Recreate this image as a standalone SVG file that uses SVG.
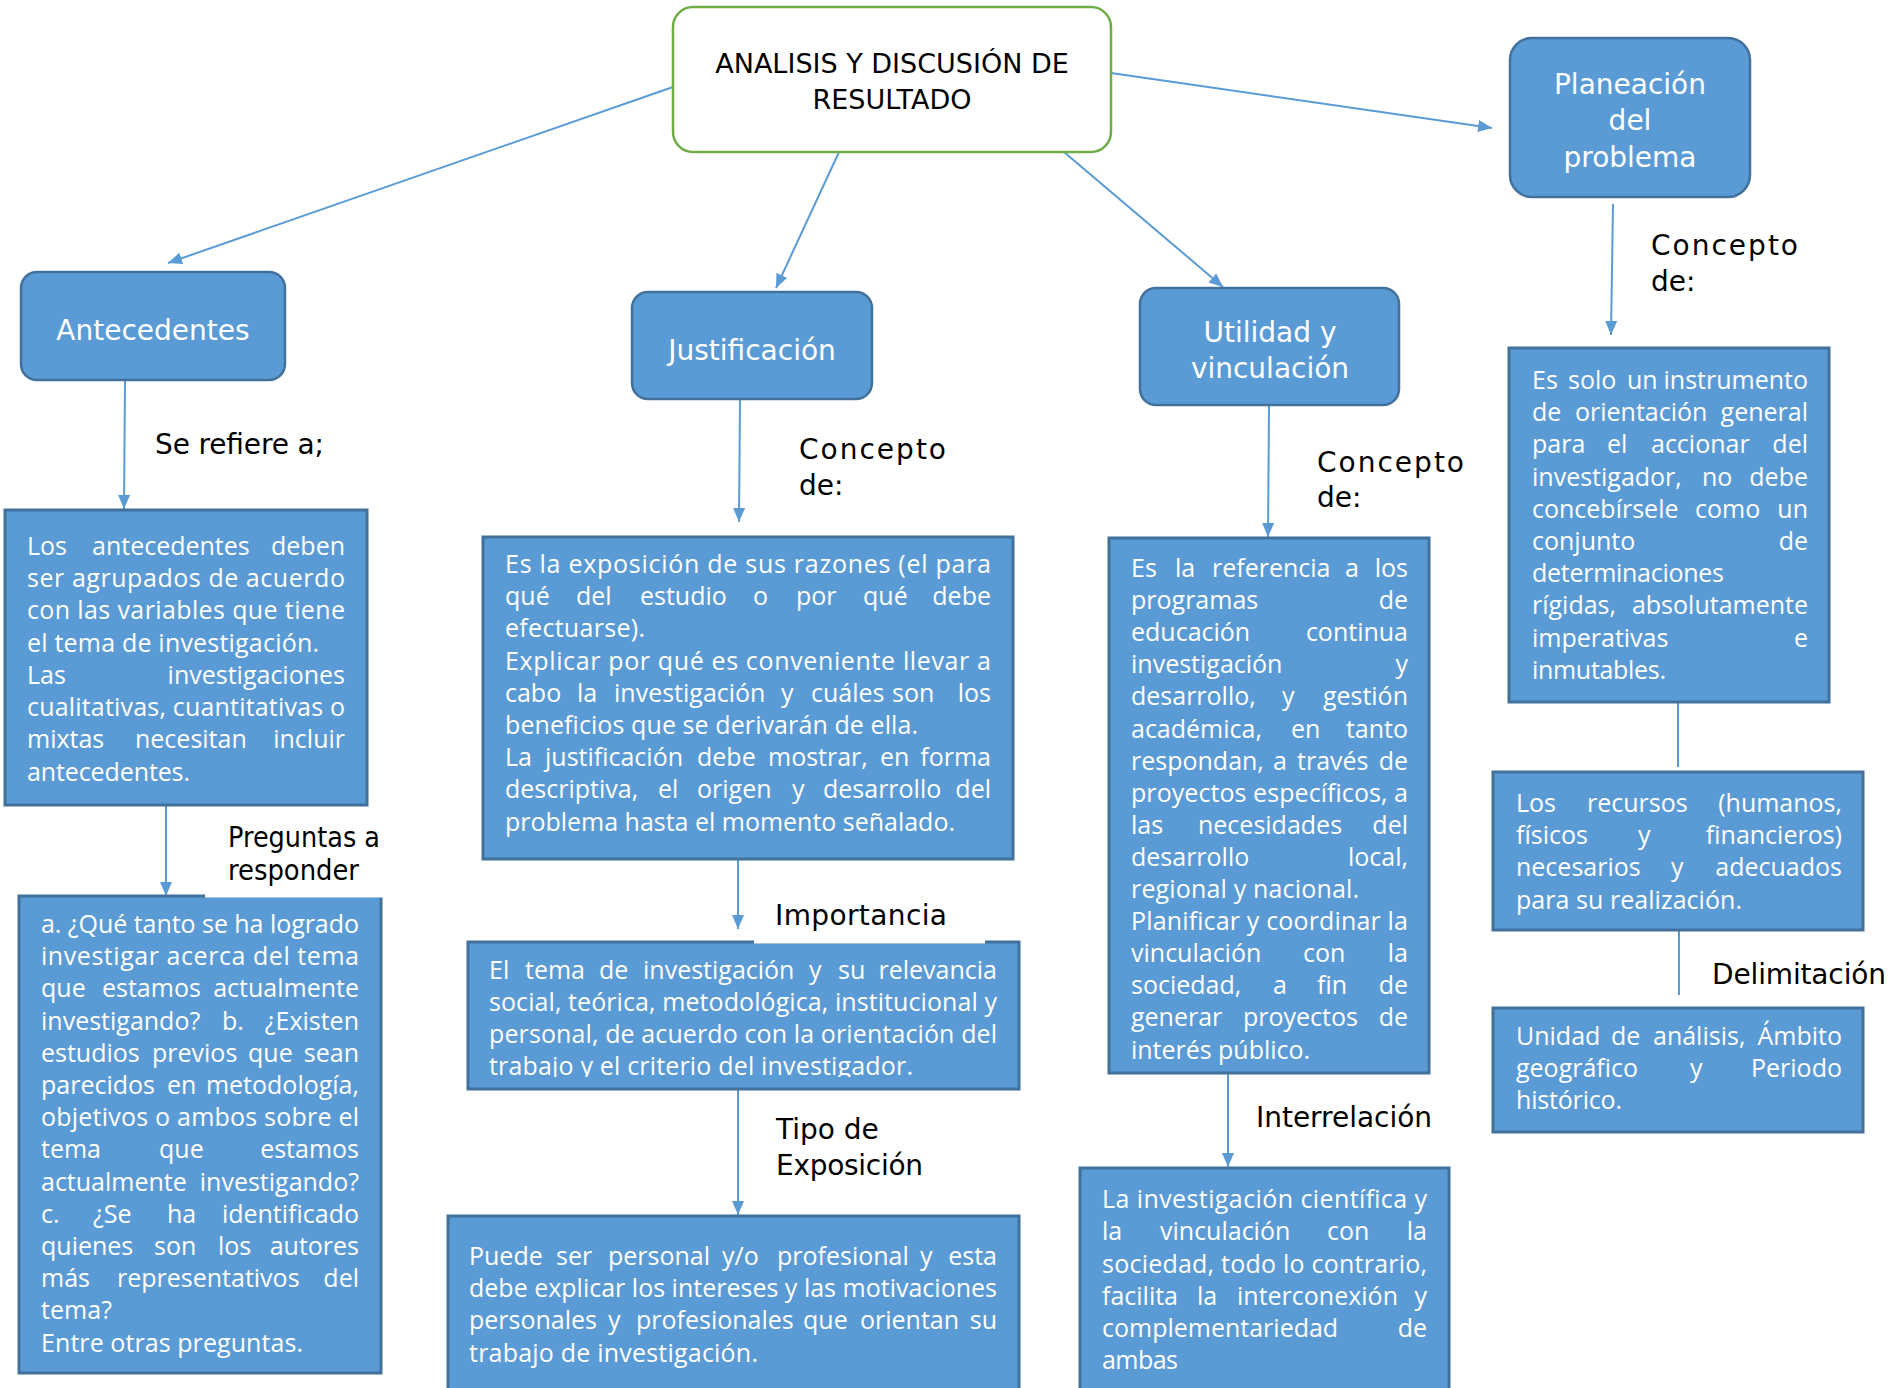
<svg xmlns="http://www.w3.org/2000/svg" width="1902" height="1388" viewBox="0 0 1902 1388">
<style>
.node{fill:#5B9BD5;stroke:#41719C;stroke-width:2.5}
.box{fill:#5B9BD5;stroke:#41719C;stroke-width:3}
.t{font-family:'Open Sans','Noto Sans',sans-serif;font-size:25px;fill:#fff}
.e{text-anchor:end}
.h{font-family:'DejaVu Sans',sans-serif;font-size:28px;fill:#fff;text-anchor:middle}
.lb{font-family:'DejaVu Sans',sans-serif;font-size:28px;fill:#000}
.c{stroke:#5B9BD5;stroke-width:2;fill:none}
</style>
<defs>
<marker id="ah" markerWidth="14" markerHeight="12" refX="14" refY="6" orient="auto" markerUnits="userSpaceOnUse"><path d="M0,0 L14,6 L0,12 z" fill="#5B9BD5"/></marker>
<clipPath id="impclip"><rect x="468" y="942" width="551" height="135"/></clipPath>
</defs>
<rect width="1902" height="1388" fill="#fff"/>

<g id="connectors">
<line class="c" x1="673" y1="87" x2="168" y2="263" marker-end="url(#ah)"/>
<line class="c" x1="839" y1="152" x2="776" y2="288" marker-end="url(#ah)"/>
<line class="c" x1="1064" y1="152" x2="1223" y2="287" marker-end="url(#ah)"/>
<line class="c" x1="1111" y1="73" x2="1492" y2="128" marker-end="url(#ah)"/>
<line class="c" x1="1613" y1="204" x2="1611" y2="335" marker-end="url(#ah)"/>
<line class="c" x1="125" y1="380" x2="124" y2="509" marker-end="url(#ah)"/>
<line class="c" x1="740" y1="399" x2="739" y2="522" marker-end="url(#ah)"/>
<line class="c" x1="1269" y1="405" x2="1268" y2="537" marker-end="url(#ah)"/>
<line class="c" x1="166" y1="805" x2="166" y2="896" marker-end="url(#ah)"/>
<line class="c" x1="738" y1="859" x2="738" y2="929" marker-end="url(#ah)"/>
<line class="c" x1="738" y1="1089" x2="738" y2="1215" marker-end="url(#ah)"/>
<line class="c" x1="1228" y1="1073" x2="1228" y2="1167" marker-end="url(#ah)"/>
<line class="c" x1="1678" y1="702" x2="1678" y2="767"/>
<line class="c" x1="1679" y1="930" x2="1679" y2="995"/>
</g>

<g id="main">
<rect x="673" y="7" width="438" height="145" rx="20" fill="#fff" stroke="#70AD47" stroke-width="2.5"/>
<text x="892" y="73" font-family="'DejaVu Sans',sans-serif" font-size="27" text-anchor="middle" fill="#000">ANALISIS Y DISCUSIÓN DE</text>
<text x="892" y="109" font-family="'DejaVu Sans',sans-serif" font-size="27" text-anchor="middle" fill="#000">RESULTADO</text>
</g>

<g id="planeacion">
<rect class="node" x="1510" y="38" width="240" height="159" rx="22"/>
<text class="h" x="1630" y="94" font-size="29">Planeación</text>
<text class="h" x="1630" y="130" font-size="29">del</text>
<text class="h" x="1630" y="167" font-size="29">problema</text>
</g>

<g id="antecedentes">
<rect class="node" x="21" y="272" width="264" height="108" rx="16"/>
<text class="h" x="153" y="340">Antecedentes</text>
</g>

<g id="justificacion">
<rect class="node" x="632" y="292" width="240" height="107" rx="16"/>
<text class="h" x="752" y="360">Justificación</text>
</g>

<g id="utilidad">
<rect class="node" x="1140" y="288" width="259" height="117" rx="16"/>
<text class="h" x="1270" y="342">Utilidad y</text>
<text class="h" x="1270" y="378">vinculación</text>
</g>

<g id="antecedentes-texto">
<rect class="box" x="5" y="510" width="362" height="295"/>
<text class="t" y="555"><tspan x="27">Los</tspan><tspan x="92">antecedentes</tspan></text><text class="t e" x="345" y="555">deben</text>
<text class="t" x="27" y="587" textLength="318" lengthAdjust="spacing">ser agrupados de acuerdo</text>
<text class="t" x="27" y="619" textLength="318" lengthAdjust="spacing">con las variables que tiene</text>
<text class="t" x="27" y="652" textLength="292" lengthAdjust="spacing">el tema de investigación.</text>
<text class="t" x="27" y="684">Las</text><text class="t e" x="345" y="684">investigaciones</text>
<text class="t" x="27" y="716" textLength="318" lengthAdjust="spacing">cualitativas, cuantitativas o</text>
<text class="t" y="748"><tspan x="27">mixtas</tspan><tspan x="135">necesitan</tspan></text><text class="t e" x="345" y="748">incluir</text>
<text class="t" x="27" y="781" textLength="163" lengthAdjust="spacing">antecedentes.</text>
</g>

<g id="preguntas">
<rect class="box" x="19" y="896" width="362" height="477"/>
<text class="t" x="41" y="933" textLength="318" lengthAdjust="spacing">a. ¿Qué tanto se ha logrado</text>
<text class="t" x="41" y="965.2" textLength="318" lengthAdjust="spacing">investigar acerca del tema</text>
<text class="t" y="997.4"><tspan x="41">que</tspan><tspan x="102">estamos</tspan></text><text class="t e" x="359" y="997.4">actualmente</text>
<text class="t" y="1029.6"><tspan x="41">investigando?</tspan><tspan x="222">b.</tspan></text><text class="t e" x="359" y="1029.6">¿Existen</text>
<text class="t" y="1061.8"><tspan x="41">estudios</tspan><tspan x="152">previos</tspan><tspan x="248">que</tspan></text><text class="t e" x="359" y="1061.8">sean</text>
<text class="t" y="1094"><tspan x="41">parecidos</tspan><tspan x="167">en</tspan></text><text class="t e" x="359" y="1094">metodología,</text>
<text class="t" x="41" y="1126.2" textLength="318" lengthAdjust="spacing">objetivos o ambos sobre el</text>
<text class="t" y="1158.4"><tspan x="41">tema</tspan><tspan x="159">que</tspan></text><text class="t e" x="359" y="1158.4">estamos</text>
<text class="t" x="41" y="1190.6">actualmente</text><text class="t e" x="359" y="1190.6">investigando?</text>
<text class="t" y="1222.8"><tspan x="41">c.</tspan><tspan x="93">¿Se</tspan><tspan x="167">ha</tspan></text><text class="t e" x="359" y="1222.8">identificado</text>
<text class="t" y="1255"><tspan x="41">quienes</tspan><tspan x="154">son</tspan><tspan x="218">los</tspan></text><text class="t e" x="359" y="1255">autores</text>
<text class="t" x="41" y="1287.2">más</text><text class="t" x="117" y="1287.2">representativos</text><text class="t e" x="359" y="1287.2">del</text>
<text class="t" x="41" y="1319.4" textLength="71" lengthAdjust="spacing">tema?</text>
<text class="t" x="41" y="1351.6" textLength="262" lengthAdjust="spacing">Entre otras preguntas.</text>
</g>

<g id="justificacion-texto">
<rect class="box" x="483" y="537" width="530" height="322"/>
<text class="t" x="505" y="573" textLength="486" lengthAdjust="spacing">Es  la exposición de sus razones (el para</text>
<text class="t" y="605.2"><tspan x="505">qué</tspan><tspan x="576">del</tspan><tspan x="640">estudio</tspan><tspan x="753">o</tspan><tspan x="796">por</tspan><tspan x="863">qué</tspan></text><text class="t e" x="991" y="605.2">debe</text>
<text class="t" x="505" y="637.4" textLength="140" lengthAdjust="spacing">efectuarse).</text>
<text class="t" x="505" y="669.6" textLength="486" lengthAdjust="spacing">Explicar por qué es conveniente llevar a</text>
<text class="t" y="701.8"><tspan x="505">cabo</tspan><tspan x="577">la</tspan><tspan x="614">investigación</tspan><tspan x="781">y</tspan><tspan x="811">cuáles</tspan><tspan x="892">son</tspan></text><text class="t e" x="991" y="701.8">los</text>
<text class="t" x="505" y="734" textLength="413" lengthAdjust="spacing">beneficios que se derivarán de ella.</text>
<text class="t" y="766.2"><tspan x="505">La</tspan><tspan x="545">justificación</tspan><tspan x="697">debe</tspan><tspan x="768">mostrar,</tspan><tspan x="880">en</tspan></text><text class="t e" x="991" y="766.2">forma</text>
<text class="t" y="798.4"><tspan x="505">descriptiva,</tspan><tspan x="658">el</tspan><tspan x="697">origen</tspan><tspan x="792">y</tspan><tspan x="823">desarrollo</tspan></text><text class="t e" x="991" y="798.4">del</text>
<text class="t" x="505" y="830.6" textLength="450" lengthAdjust="spacing">problema hasta el momento señalado.</text>
</g>

<g id="importancia">
<rect class="box" x="468" y="942" width="551" height="147"/>
<rect x="754" y="900" width="231" height="43.5" fill="#fff"/>
<g clip-path="url(#impclip)">
<text class="t" y="979"><tspan x="489">El</tspan><tspan x="525">tema</tspan><tspan x="599">de</tspan><tspan x="643">investigación</tspan><tspan x="809">y</tspan><tspan x="838">su</tspan></text><text class="t e" x="997" y="979">relevancia</text>
<text class="t" x="489" y="1011" textLength="508" lengthAdjust="spacing">social, teórica, metodológica, institucional y</text>
<text class="t" x="489" y="1043" textLength="508" lengthAdjust="spacing">personal, de acuerdo con la orientación del</text>
<text class="t" x="489" y="1075" textLength="424" lengthAdjust="spacing">trabajo y el criterio del investigador.</text>
</g>
</g>

<g id="tipo-exposicion">
<rect class="box" x="448" y="1216" width="571" height="190"/>
<text class="t" y="1265"><tspan x="469">Puede</tspan><tspan x="556">ser</tspan><tspan x="608">personal</tspan><tspan x="722">y/o</tspan><tspan x="777">profesional</tspan><tspan x="920">y</tspan></text><text class="t e" x="997" y="1265">esta</text>
<text class="t" x="469" y="1297" textLength="528" lengthAdjust="spacing">debe explicar los intereses y las motivaciones</text>
<text class="t" y="1329"><tspan x="469">personales</tspan><tspan x="608">y</tspan><tspan x="636">profesionales</tspan><tspan x="803">que</tspan><tspan x="860">orientan</tspan></text><text class="t e" x="997" y="1329">su</text>
<text class="t" x="469" y="1362" textLength="289" lengthAdjust="spacing">trabajo de investigación.</text>
</g>

<g id="utilidad-texto">
<rect class="box" x="1109" y="538" width="320" height="535"/>
<text class="t" y="577"><tspan x="1131">Es</tspan><tspan x="1175">la</tspan><tspan x="1212">referencia</tspan><tspan x="1345">a</tspan></text><text class="t e" x="1408" y="577">los</text>
<text class="t" x="1131" y="609">programas</text><text class="t e" x="1408" y="609">de</text>
<text class="t" x="1131" y="641">educación</text><text class="t e" x="1408" y="641">continua</text>
<text class="t" x="1131" y="673">investigación</text><text class="t e" x="1408" y="673">y</text>
<text class="t" y="705"><tspan x="1131">desarrollo,</tspan><tspan x="1282">y</tspan></text><text class="t e" x="1408" y="705">gestión</text>
<text class="t" y="738"><tspan x="1131">académica,</tspan><tspan x="1291">en</tspan></text><text class="t e" x="1408" y="738">tanto</text>
<text class="t" y="770"><tspan x="1131">respondan,</tspan><tspan x="1273">a</tspan><tspan x="1297">través</tspan></text><text class="t e" x="1408" y="770">de</text>
<text class="t" x="1131" y="802" textLength="277" lengthAdjust="spacing">proyectos específicos, a</text>
<text class="t" y="834"><tspan x="1131">las</tspan><tspan x="1198">necesidades</tspan></text><text class="t e" x="1408" y="834">del</text>
<text class="t" x="1131" y="866">desarrollo</text><text class="t e" x="1408" y="866">local,</text>
<text class="t" x="1131" y="898" textLength="228" lengthAdjust="spacing">regional y nacional.</text>
<text class="t" x="1131" y="930" textLength="277" lengthAdjust="spacing">Planificar y coordinar la</text>
<text class="t" y="962"><tspan x="1131">vinculación</tspan><tspan x="1303">con</tspan></text><text class="t e" x="1408" y="962">la</text>
<text class="t" y="994"><tspan x="1131">sociedad,</tspan><tspan x="1273">a</tspan><tspan x="1317">fin</tspan></text><text class="t e" x="1408" y="994">de</text>
<text class="t" y="1026"><tspan x="1131">generar</tspan><tspan x="1243">proyectos</tspan></text><text class="t e" x="1408" y="1026">de</text>
<text class="t" x="1131" y="1059" textLength="179" lengthAdjust="spacing">interés público.</text>
</g>

<g id="interrelacion">
<rect class="box" x="1080" y="1168" width="369" height="240"/>
<text class="t" x="1102" y="1208" textLength="325" lengthAdjust="spacing">La investigación científica y</text>
<text class="t" y="1240"><tspan x="1102">la</tspan><tspan x="1160">vinculación</tspan><tspan x="1327">con</tspan></text><text class="t e" x="1427" y="1240">la</text>
<text class="t" x="1102" y="1273" textLength="325" lengthAdjust="spacing">sociedad, todo lo contrario,</text>
<text class="t" y="1305"><tspan x="1102">facilita</tspan><tspan x="1197">la</tspan><tspan x="1237">interconexión</tspan></text><text class="t e" x="1427" y="1305">y</text>
<text class="t" x="1102" y="1337">complementariedad</text><text class="t e" x="1427" y="1337">de</text>
<text class="t" x="1102" y="1369" textLength="76" lengthAdjust="spacing">ambas</text>
</g>

<g id="planeacion-texto">
<rect class="box" x="1509" y="348" width="320" height="354"/>
<text class="t" y="389"><tspan x="1532">Es</tspan><tspan x="1568">solo</tspan><tspan x="1627">un</tspan></text><text class="t e" x="1808" y="389">instrumento</text>
<text class="t" y="421"><tspan x="1532">de</tspan><tspan x="1575">orientación</tspan></text><text class="t e" x="1808" y="421">general</text>
<text class="t" y="453"><tspan x="1532">para</tspan><tspan x="1607">el</tspan><tspan x="1651">accionar</tspan></text><text class="t e" x="1808" y="453">del</text>
<text class="t" y="486"><tspan x="1532">investigador,</tspan><tspan x="1702">no</tspan></text><text class="t e" x="1808" y="486">debe</text>
<text class="t" y="518"><tspan x="1532">concebírsele</tspan><tspan x="1695">como</tspan></text><text class="t e" x="1808" y="518">un</text>
<text class="t" x="1532" y="550">conjunto</text><text class="t e" x="1808" y="550">de</text>
<text class="t" x="1532" y="582" textLength="192" lengthAdjust="spacing">determinaciones</text>
<text class="t" x="1532" y="614">rígidas,</text><text class="t e" x="1808" y="614">absolutamente</text>
<text class="t" x="1532" y="647">imperativas</text><text class="t e" x="1808" y="647">e</text>
<text class="t" x="1532" y="679" textLength="134" lengthAdjust="spacing">inmutables.</text>
</g>

<g id="recursos">
<rect class="box" x="1493" y="772" width="370" height="158"/>
<text class="t" y="812"><tspan x="1516">Los</tspan><tspan x="1587">recursos</tspan></text><text class="t e" x="1842" y="812">(humanos,</text>
<text class="t" y="844"><tspan x="1516">físicos</tspan><tspan x="1638">y</tspan></text><text class="t e" x="1842" y="844">financieros)</text>
<text class="t" y="876"><tspan x="1516">necesarios</tspan><tspan x="1671">y</tspan></text><text class="t e" x="1842" y="876">adecuados</text>
<text class="t" x="1516" y="909" textLength="226" lengthAdjust="spacing">para su realización.</text>
</g>

<g id="delimitacion">
<rect class="box" x="1493" y="1008" width="370" height="124"/>
<text class="t" y="1045"><tspan x="1516">Unidad</tspan><tspan x="1611">de</tspan><tspan x="1653">análisis,</tspan></text><text class="t e" x="1842" y="1045">Ámbito</text>
<text class="t" y="1077"><tspan x="1516">geográfico</tspan><tspan x="1690">y</tspan></text><text class="t e" x="1842" y="1077">Periodo</text>
<text class="t" x="1516" y="1109" textLength="106" lengthAdjust="spacing">histórico.</text>
</g>

<g id="labels">
<text class="lb" x="155" y="454" textLength="169" lengthAdjust="spacing">Se refiere a;</text>
<rect x="205" y="815" width="180" height="82.5" fill="#fff"/>
<text class="lb" x="228" y="847" font-size="26" textLength="152" lengthAdjust="spacingAndGlyphs">Preguntas a</text>
<text class="lb" x="228" y="880" font-size="26" textLength="131" lengthAdjust="spacingAndGlyphs">responder</text>
<text class="lb" x="799" y="459" textLength="147" lengthAdjust="spacing">Concepto</text>
<text class="lb" x="799" y="495">de:</text>
<text class="lb" x="775" y="925" textLength="172" lengthAdjust="spacing">Importancia</text>
<text class="lb" x="776" y="1139">Tipo de</text>
<text class="lb" x="776" y="1175" textLength="147" lengthAdjust="spacing">Exposición</text>
<text class="lb" x="1317" y="472" textLength="147" lengthAdjust="spacing">Concepto</text>
<text class="lb" x="1317" y="507">de:</text>
<text class="lb" x="1256" y="1127" textLength="176" lengthAdjust="spacing">Interrelación</text>
<text class="lb" x="1651" y="255" textLength="147" lengthAdjust="spacing">Concepto</text>
<text class="lb" x="1651" y="291">de:</text>
<text class="lb" x="1712" y="984" textLength="174" lengthAdjust="spacing">Delimitación</text>
</g>
</svg>
